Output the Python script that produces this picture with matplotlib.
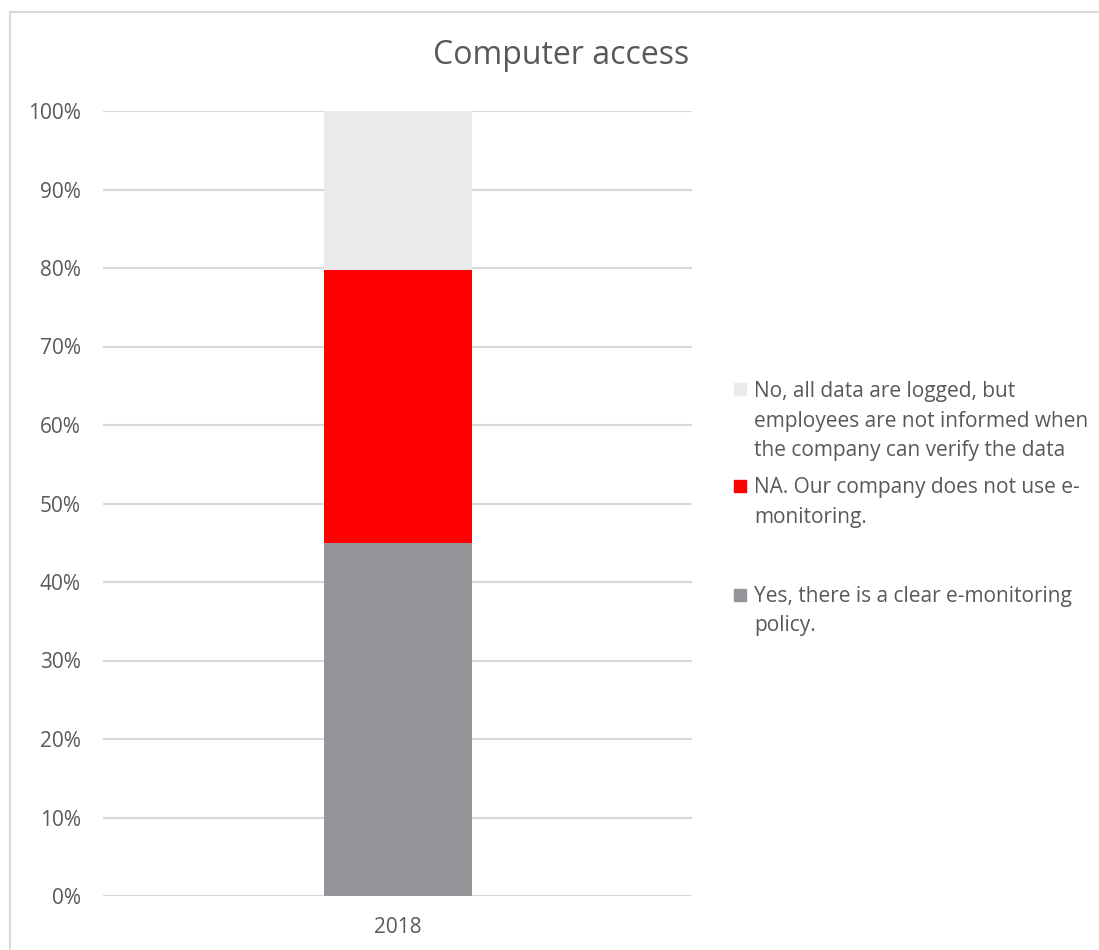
import matplotlib.pyplot as plt
from matplotlib.patches import Rectangle
from matplotlib.lines import Line2D

plt.rcParams['font.family'] = ['Open Sans', 'DejaVu Sans']

years = ['2018']
yes_policy = [45.0]
na_no_monitoring = [34.7]
no_logged = [20.3]
labels = ['No, all data are logged, but\nemployees are not informed when\nthe company can verify the data',
          'NA. Our company does not use e-\nmonitoring.',
          'Yes, there is a clear e-monitoring\npolicy.']
colors = ['#ebebeb', '#ff0000', '#939598']
txt = '#595959'

W, H = 1099, 950
fig = plt.figure(figsize=(W / 100, H / 100), dpi=100)
ax = fig.add_axes([103 / W, 1 - 896 / H, 589 / W, 785 / H])

x = range(len(years))
bw = 148 / 589
ax.bar(x, yes_policy, bw, color=colors[2], zorder=3)
bottom2 = yes_policy
ax.bar(x, na_no_monitoring, bw, bottom=bottom2, color=colors[1], zorder=3)
bottom3 = [a + b for a, b in zip(yes_policy, na_no_monitoring)]
ax.bar(x, no_logged, bw, bottom=bottom3, color=colors[0], zorder=3)

ax.set_xlim(-0.5, 0.5)
ax.set_ylim(0, 100)
ax.set_yticks(range(0, 101, 10))
ax.set_yticklabels([f'{v}%' for v in range(0, 101, 10)], color=txt, fontsize=15)
ax.set_xticks(list(x))
ax.set_xticklabels(years, color=txt, fontsize=15)
ax.tick_params(length=0)
ax.tick_params(axis='y', pad=16)
ax.tick_params(axis='x', pad=15)
ax.grid(axis='y', color='#d9d9d9', linewidth=1.5, zorder=0)
for s in ax.spines.values():
    s.set_visible(False)

fig.text(561 / W, 1 - 56 / H, 'Computer access', ha='center', va='center',
         fontsize=23, color=txt)

# legend drawn by hand
centers = [389, 486, 595]
baselines = [397, 493, 602]
step = 29.5
for lab, c, yc, yb in zip(labels, colors, centers, baselines):
    fig.patches.append(Rectangle((734 / W, 1 - (yc + 6) / H), 12 / W, 12 / H,
                                 transform=fig.transFigure, color=c))
    for i, line in enumerate(lab.split('\n')):
        fig.text(754 / W, 1 - (yb + i * step) / H, line, ha='left', va='baseline',
                 fontsize=15, color=txt)

# outer frame
fig.add_artist(Line2D([10 / W, 10 / W], [0, 1 - 12 / H], transform=fig.transFigure,
                      color='#d9d9d9', linewidth=1.5))
fig.add_artist(Line2D([10 / W, 1], [1 - 12 / H, 1 - 12 / H], transform=fig.transFigure,
                      color='#d9d9d9', linewidth=1.5))

fig.savefig('out.png', dpi=100)
